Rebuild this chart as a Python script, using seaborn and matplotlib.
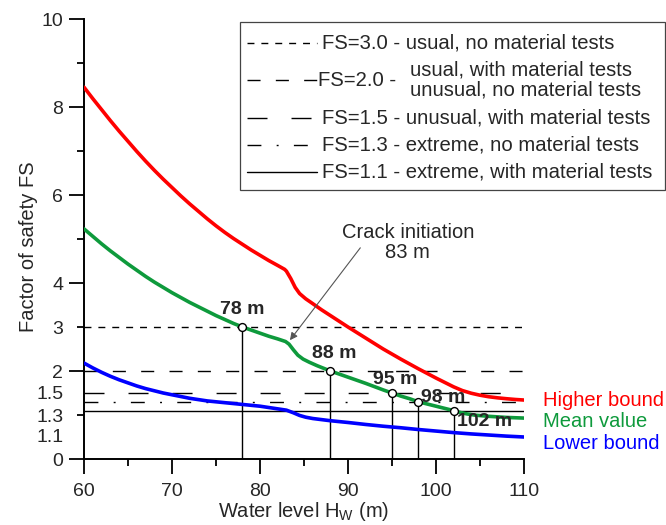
import numpy as np
import pandas as pd
import matplotlib
matplotlib.use("Agg")
import matplotlib.pyplot as plt
import seaborn as sns
from matplotlib.lines import Line2D
from matplotlib.patches import Rectangle

# ---------------- data ----------------
higher_x = [60, 61, 62, 63, 64, 65, 66, 67, 68, 69, 70, 71, 72, 73, 74, 75, 76, 77, 78, 79, 80, 81, 82,
            82.8, 83.0, 83.5, 84.0, 84.5, 85.2, 86, 87, 88, 89, 90, 92, 94, 96, 98, 100, 101, 102,
            103, 104, 105, 106, 107, 108, 109, 110]
higher_y = [8.45, 8.19, 7.94, 7.69, 7.45, 7.22, 6.99, 6.77, 6.56, 6.36, 6.17, 5.98, 5.80, 5.63, 5.46,
            5.30, 5.15, 5.01, 4.88, 4.75, 4.63, 4.51, 4.40,
            4.31, 4.27, 4.10, 3.90, 3.76, 3.64, 3.53, 3.39, 3.26, 3.13, 3.00, 2.75, 2.50, 2.27, 2.05,
            1.84, 1.74, 1.64, 1.555, 1.495, 1.45, 1.415, 1.39, 1.37, 1.353, 1.34]

mean_x = [60, 61, 62, 63, 64, 65, 66, 67, 68, 69, 70, 71, 72, 73, 74, 75, 76, 77, 78, 79, 80, 81, 82,
          82.9, 83.3, 83.8, 84.3, 84.9, 85.6, 86.5, 88, 89, 90, 92, 94, 95, 96, 97, 98, 99, 100,
          101, 102, 102.8, 103.5, 104.5, 106, 108, 110]
mean_y = [5.23, 5.06, 4.89, 4.73, 4.58, 4.43, 4.29, 4.15, 4.02, 3.90, 3.78, 3.67, 3.56, 3.46, 3.36,
          3.26, 3.17, 3.08, 3.00, 2.93, 2.86, 2.79, 2.73,
          2.67, 2.61, 2.48, 2.36, 2.27, 2.20, 2.12, 2.00, 1.93, 1.86, 1.72, 1.57, 1.50, 1.43, 1.37,
          1.30, 1.25, 1.20, 1.15, 1.10, 1.055, 1.025, 0.995, 0.97, 0.945, 0.93]

lower_x = [60, 61, 62, 63, 64, 65, 66, 67, 68, 69, 70, 71, 72, 73, 74, 75, 76, 77, 78, 79, 80, 81, 82,
           83, 83.8, 84.5, 85.2, 86, 87, 88, 90, 92, 94, 96, 98, 100, 102, 104, 106, 108, 110]
lower_y = [2.18, 2.07, 1.97, 1.88, 1.80, 1.73, 1.66, 1.60, 1.55, 1.50, 1.46, 1.42, 1.38, 1.35, 1.32,
           1.30, 1.28, 1.26, 1.24, 1.22, 1.20, 1.17, 1.14,
           1.11, 1.05, 0.99, 0.95, 0.92, 0.895, 0.87, 0.83, 0.785, 0.745, 0.71, 0.67, 0.635, 0.60,
           0.57, 0.545, 0.52, 0.50]

series_names = ["Higher bound", "Mean value", "Lower bound"]
series_colors = ["#FF0000", "#0E9A3C", "#0000FF"]
series_label_y = [1.34, 0.86, 0.36]

fs_values = [3.0, 2.0, 1.5, 1.3, 1.1]
fs_labels = ["3.0", "2.0", "1.5", "1.3", "1.1"]
fs_desc = ["usual, no material tests",
           "usual, with material tests\nunusual, no material tests",
           "unusual, with material tests",
           "extreme, no material tests",
           "extreme, with material tests"]
fs_dashes = [(5, 5), (9.4, 11), (14.4, 17.3), (10, 11, 1.4, 11), None]

cross_x = [78, 88, 95, 98, 102]
cross_y = [3.0, 2.0, 1.5, 1.3, 1.1]
cross_labels = ["78 m", "88 m", "95 m", "98 m", "102 m"]
cross_offsets_px = [(0, 17), (4, 17), (3, 13), (25, 4), (31, -11)]

ytick_pos = [0, 0.545, 1.0, 1.52, 2, 3, 4, 6, 8, 10]
ytick_labels = ["0", "1.1", "1.3", "1.5", "2", "3", "4", "6", "8", "10"]
ytick_major = [0, 2, 4, 6, 8, 10]
ytick_minor = [1, 3, 5, 7, 9]
xticks = [60, 70, 80, 90, 100, 110]
xticks_minor = [65, 75, 85, 95, 105]

crack_text = "Crack initiation\n83 m"
crack_head = (83.4, 2.70)
crack_tail = (91.4, 4.80)
crack_text_pos = (96.8, 4.92)

# ---------------- style ----------------
sns.set_style("ticks")
plt.rcParams["font.family"] = ["Liberation Sans", "DejaVu Sans"]
plt.rcParams["mathtext.fontset"] = "custom"
plt.rcParams["mathtext.rm"] = "Liberation Sans"
plt.rcParams["mathtext.it"] = "Liberation Sans"

W, H = 666, 525
fig = plt.figure(figsize=(W / 100, H / 100), dpi=100)
ax = fig.add_axes([84 / W, 1 - 459 / H, 440 / W, 440 / H])

df = pd.concat([
    pd.DataFrame({"x": higher_x, "y": higher_y, "s": series_names[0]}),
    pd.DataFrame({"x": mean_x, "y": mean_y, "s": series_names[1]}),
    pd.DataFrame({"x": lower_x, "y": lower_y, "s": series_names[2]}),
])

xmin, xmax = min(mean_x), max(mean_x)

# FS lines
for v, d in zip(fs_values, fs_dashes):
    ln = ax.hlines(v, xmin, xmax, color="black", lw=1.0, zorder=1)
    if d is not None:
        ln.set_linestyle((0, d))

# vertical drops
ax.vlines(cross_x, 0, cross_y, color="black", lw=1.0, zorder=2)

sns.lineplot(data=df, x="x", y="y", hue="s", palette=dict(zip(series_names, series_colors)),
             sort=False, lw=2.6, legend=False, ax=ax, zorder=3)

sns.scatterplot(x=cross_x, y=cross_y, s=32, facecolor="white", edgecolor="black",
                linewidth=1.0, ax=ax, zorder=5)

for cx, cy, lab, (dx, dy) in zip(cross_x, cross_y, cross_labels, cross_offsets_px):
    ax.annotate(lab, (cx, cy), xytext=(dx * 0.72, dy * 0.72), textcoords="offset points",
                ha="center", va="center", fontsize=14, fontweight="bold", zorder=6)

# crack annotation
ax.annotate("", xy=crack_head, xytext=crack_tail,
            arrowprops=dict(arrowstyle="-|>", color="#555555", lw=0.8, mutation_scale=11,
                            shrinkA=0, shrinkB=0), zorder=4)
ax.text(*crack_text_pos, crack_text, ha="center", va="center", fontsize=14.5,
        linespacing=1.05)

# series names at right end
for name, col, ly in zip(series_names, series_colors, series_label_y):
    ax.annotate(name, (xmax, ly), xytext=(13.5, 0), textcoords="offset points",
                ha="left", va="center", color=col, fontsize=14.5, annotation_clip=False)

# axes
ax.set_xlim(60, 110)
ax.set_ylim(0, 10)
ax.set_xticks(xticks)
ax.set_xticks(xticks_minor, minor=True)
ax.set_yticks(ytick_pos)
ax.set_yticklabels(ytick_labels)
ax.set_yticks(ytick_minor, minor=True)
ax.yaxis.remove_overlapping_locs = False
for t, p in zip(ax.yaxis.get_major_ticks(), ytick_pos):
    if p not in ytick_major:
        t.tick1line.set_visible(False)
ax.tick_params(axis="both", which="major", length=11, width=1.3, labelsize=14, color="black")
ax.tick_params(axis="both", which="minor", length=5, width=1.3, color="black")
ax.tick_params(axis="x", which="major", pad=6)
ax.tick_params(axis="y", which="major", pad=4)
for s in ["top", "right"]:
    ax.spines[s].set_visible(False)
for s in ["left", "bottom"]:
    ax.spines[s].set_linewidth(1.4)
    ax.spines[s].set_color("black")
ax.set_xlabel(r"Water level H$_\mathregular{W}$ (m)", fontsize=14.5, labelpad=0)
ax.set_ylabel("Factor of safety FS", fontsize=14.5)
ax.yaxis.set_label_coords((38 - 84) / 440, (459 - 247) / 440)

# legend box (manual)
fig.add_artist(Rectangle((240 / W, 1 - 190 / H), 425 / W, 168 / H, transform=fig.transFigure,
                         fill=False, edgecolor="#444444", lw=0.9))
row_y = [43, 80, 118, 145, 172]
LFS = 14.6
for lab, desc, d, ry in zip(fs_labels, fs_desc, fs_dashes, row_y):
    ln = Line2D([247 / W, 317 / W], [1 - ry / H, 1 - ry / H], transform=fig.transFigure,
                color="black", lw=1.0)
    if d is not None:
        ln.set_dashes(d)
    fig.add_artist(ln)
    if "\n" in desc:
        fig.text(318 / W, 1 - ry / H, f"FS={lab} -", ha="left", va="center", fontsize=LFS)
        fig.text(410 / W, 1 - ry / H, desc, ha="left", va="center", fontsize=LFS, linespacing=1.0)
    else:
        fig.text(322 / W, 1 - ry / H, f"FS={lab} - {desc}", ha="left", va="center", fontsize=LFS)

fig.savefig("out.png", dpi=100)
